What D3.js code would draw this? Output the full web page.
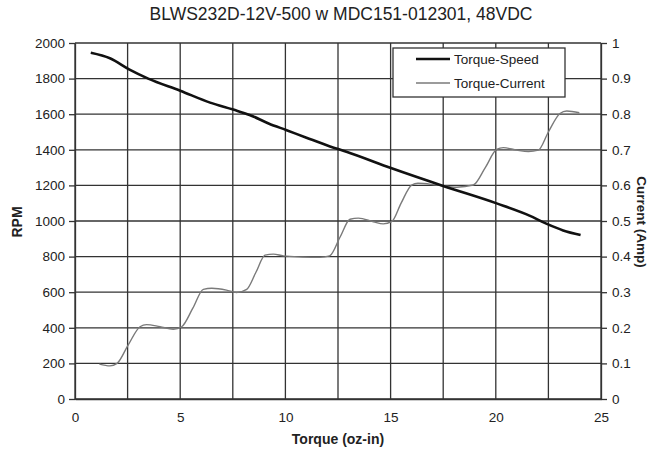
<!DOCTYPE html>
<meta charset="utf-8">
<script src="https://d3js.org/d3.v7.min.js"></script>
<style>
  body { margin: 0; background: #fff; }
  text { font-family: "Liberation Sans", Arial, sans-serif; fill: #222; }
</style>
<body>
<svg width="651" height="458"></svg>
<script>
    // torque (oz-in) vs speed (RPM)
    var speedTorque = [0.75, 1.66, 2.57, 3.48, 5.0, 6.42, 7.52, 8.3, 9.2, 10.06, 11.0, 12.12, 12.9, 15.05, 17.6, 20.04, 21.6, 22.4, 23.2, 24.03];
    var speedRpm    = [1945, 1914, 1852, 1800, 1732, 1665, 1626, 1596, 1548, 1510, 1468, 1419, 1389, 1296, 1193, 1099, 1030, 985, 947, 921];

    // torque (oz-in) vs current (Amp)
    var currTorque = [1.16, 1.66, 2.0, 2.53, 3.09, 3.4, 4.04, 4.67, 5.07, 5.6, 6.1, 6.5, 7.2, 7.68, 8.16, 8.6, 9.03, 9.43, 9.9, 10.8, 11.64, 12.1, 12.6, 13.07, 13.47, 14.18, 14.65, 15.05, 15.5, 16.0, 16.3, 17.2, 18.14, 18.93, 19.5, 20.04, 20.36, 21.0, 21.55, 22.02, 22.5, 23.05, 23.37, 23.97];
    var currAmp    = [0.098, 0.093, 0.1, 0.152, 0.203, 0.209, 0.203, 0.196, 0.203, 0.255, 0.308, 0.311, 0.306, 0.299, 0.308, 0.356, 0.404, 0.407, 0.402, 0.399, 0.398, 0.402, 0.455, 0.505, 0.508, 0.498, 0.492, 0.498, 0.55, 0.601, 0.606, 0.601, 0.595, 0.601, 0.65, 0.701, 0.706, 0.699, 0.695, 0.699, 0.75, 0.802, 0.809, 0.804];

    var xTicks   = [0, 5, 10, 15, 20, 25];
    var xGrid    = d3.range(0, 25.01, 2.5);
    var rpmTicks = d3.range(0, 2001, 200);
    var ampTicks = [0, 0.1, 0.2, 0.3, 0.4, 0.5, 0.6, 0.7, 0.8, 0.9, 1];

    var svg = d3.select('svg');
    var pL = 75, pR = 601, pT = 43, pB = 399;
    var gridCol = '#333';

    var x  = d3.scaleLinear().domain([0, 25]).range([pL, pR]);
    var yL = d3.scaleLinear().domain([0, 2000]).range([pB, pT]);
    var yR = d3.scaleLinear().domain([0, 1]).range([pB, pT]);

    // grid
    svg.append('g').selectAll('line').data(rpmTicks).enter().append('line')
        .attr('x1', pL).attr('x2', pR)
        .attr('y1', function(d){ return yL(d); }).attr('y2', function(d){ return yL(d); })
        .attr('stroke', gridCol).attr('stroke-width', 1.3);
    svg.append('g').selectAll('line').data(xGrid).enter().append('line')
        .attr('y1', pT).attr('y2', pB)
        .attr('x1', function(d){ return x(d); }).attr('x2', function(d){ return x(d); })
        .attr('stroke', gridCol).attr('stroke-width', 1.3);

    // axes
    function styleAxis(g){
        g.select('.domain').attr('stroke', gridCol).attr('stroke-width', 1.3);
        g.selectAll('.tick line').attr('stroke', gridCol).attr('stroke-width', 1.3);
        g.selectAll('text').style('font-size', '13.5px').attr('fill', '#222');
    }
    svg.append('g').attr('transform', 'translate(' + pL + ',0)')
        .call(d3.axisLeft(yL).tickValues(rpmTicks).tickSize(6).tickPadding(4).tickSizeOuter(0).tickFormat(d3.format('d')))
        .call(styleAxis);
    svg.append('g').attr('transform', 'translate(' + pR + ',0)')
        .call(d3.axisRight(yR).tickValues(ampTicks).tickSize(6).tickPadding(5).tickSizeOuter(0)
            .tickFormat(function(d){ return d === 0 || d === 1 ? d3.format('d')(d) : d3.format('.1f')(d); }))
        .call(styleAxis);
    svg.append('g').attr('transform', 'translate(0,' + pB + ')')
        .call(d3.axisBottom(x).tickValues(xTicks).tickSize(0).tickPadding(13).tickSizeOuter(0))
        .call(styleAxis);

    // series
    var speedData = speedTorque.map(function(t, i){ return [t, speedRpm[i]]; });
    var currData  = currTorque.map(function(t, i){ return [t, currAmp[i]]; });

    svg.append('path').datum(currData)
        .attr('fill', 'none').attr('stroke', '#7a7a7a').attr('stroke-width', 1.4)
        .attr('d', d3.line().x(function(d){ return x(d[0]); }).y(function(d){ return yR(d[1]); }).curve(d3.curveMonotoneX));
    svg.append('path').datum(speedData)
        .attr('fill', 'none').attr('stroke', '#111').attr('stroke-width', 2.6)
        .attr('d', d3.line().x(function(d){ return x(d[0]); }).y(function(d){ return yL(d[1]); }).curve(d3.curveMonotoneX));

    // legend
    var lg = svg.append('g');
    lg.append('rect').attr('x', 393).attr('y', 48).attr('width', 172).attr('height', 49)
        .attr('fill', '#fff').attr('stroke', gridCol).attr('stroke-width', 1.3);
    var items = [['Torque-Speed', '#111', 2.6], ['Torque-Current', '#7a7a7a', 1.4]];
    items.forEach(function(it, i){
        var yy = 59 + i * 24;
        lg.append('line').attr('x1', 416).attr('x2', 450).attr('y1', yy).attr('y2', yy)
            .attr('stroke', it[1]).attr('stroke-width', it[2]);
        lg.append('text').attr('x', 454).attr('y', yy).attr('dy', '0.35em')
            .style('font-size', '13.5px').text(it[0]);
    });

    // titles
    svg.append('text').attr('x', 341).attr('y', 20).attr('text-anchor', 'middle')
        .style('font-size', '17.5px').text('BLWS232D-12V-500 w MDC151-012301, 48VDC');
    svg.append('text').attr('x', 338).attr('y', 444).attr('text-anchor', 'middle')
        .style('font-size', '14px').style('font-weight', 'bold').text('Torque (oz-in)');
    svg.append('text').attr('transform', 'translate(22,222) rotate(-90)').attr('text-anchor', 'middle')
        .style('font-size', '14px').style('font-weight', 'bold').text('RPM');
    svg.append('text').attr('transform', 'translate(637,222) rotate(90)').attr('text-anchor', 'middle')
        .style('font-size', '13.5px').style('font-weight', 'bold').text('Current (Amp)');
</script>
</body>
